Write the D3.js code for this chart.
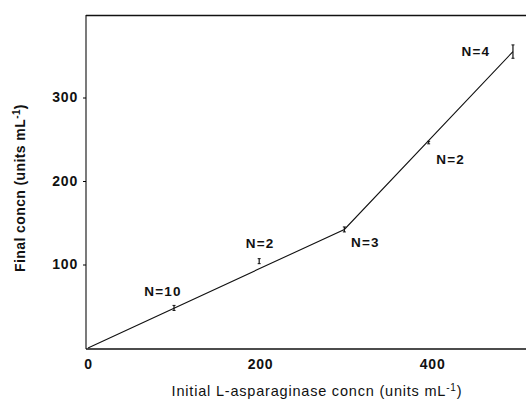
<!DOCTYPE html>
<html>
<head>
<meta charset="utf-8">
<script src="https://cdn.jsdelivr.net/npm/d3@7"></script>
<style>
  body { margin: 0; background: #fff; }
  text { font-family: "Liberation Sans", Arial, sans-serif; fill: #111; }
</style>
</head>
<body>
<div id="container"></div>
<script>
// data
var doses = [100, 199, 298, 396, 494];
var finals = [48, 104, 142, 246, 355];
var errs = [3, 3, 3, 1.5, 8];
var nLabels = ["N=10", "N=2", "N=3", "N=2", "N=4"];
// connecting line vertices
var lineX = [0, 298, 494];
var lineY = [0, 142, 355];
var xTicks = [0, 200, 400];
var yTicks = [100, 200, 300];

var W = 526, H = 402,
    plot = {left: 88, right: 525, top: 14, bottom: 348},
    // label offsets relative to marker (px)
    labelOff = [[-11, -12], [1, -13], [21, 18], [22, 21], [-37, 4]];

var svg = d3.select("#container")
    .append("svg")
    .attr("width", W)
    .attr("height", H);

var x = d3.scaleLinear()
    .domain([0, 508])
    .range([plot.left, plot.right]);

var y = d3.scaleLinear()
    .domain([0, 400])
    .range([plot.bottom, plot.top]);

// frame: left, bottom, top
svg.append("line")
    .attr("x1", x(0) - 2).attr("x2", x(0) - 2)
    .attr("y1", y(400) + 1).attr("y2", y(0) + 1)
    .attr("stroke", "#222").attr("stroke-width", 1.2);
svg.append("line")
    .attr("x1", x(0) - 2).attr("x2", W)
    .attr("y1", y(0) + 1).attr("y2", y(0) + 1)
    .attr("stroke", "#111").attr("stroke-width", 1.6);
svg.append("line")
    .attr("x1", x(0) - 2).attr("x2", W)
    .attr("y1", y(400) + 1.5).attr("y2", y(400) + 1.5)
    .attr("stroke", "#111").attr("stroke-width", 1.6);

// Y axis
var yAxis = svg.append("g")
    .attr("transform", "translate(" + (x(0) - 2) + ",0)")
    .call(d3.axisLeft(y).tickValues(yTicks).tickSize(3).tickPadding(5));
yAxis.select(".domain").remove();
yAxis.selectAll("text")
    .style("font-size", "14px")
    .style("font-weight", "bold")
    .style("letter-spacing", "0.8px")
    .style("font-family", "'Liberation Sans', Arial, sans-serif")
    .attr("fill", "#111");

// X axis
var xAxis = svg.append("g")
    .attr("transform", "translate(0," + (y(0) + 1) + ")")
    .call(d3.axisBottom(x).tickValues(xTicks).tickSize(0).tickPadding(10));
xAxis.select(".domain").remove();
xAxis.selectAll("text")
    .style("font-size", "14px")
    .style("font-weight", "bold")
    .style("letter-spacing", "0.8px")
    .style("font-family", "'Liberation Sans', Arial, sans-serif")
    .attr("fill", "#111");

// axis titles
svg.append("text")
    .attr("x", 317)
    .attr("y", 396)
    .attr("text-anchor", "middle")
    .style("font-size", "14.5px")
    .style("letter-spacing", "0.8px")
    .html("Initial L-asparaginase concn (units mL<tspan dy='-5' font-size='10px'>-1</tspan><tspan dy='5'>)</tspan>");

svg.append("text")
    .attr("transform", "translate(25,188) rotate(-90)")
    .attr("text-anchor", "middle")
    .style("font-size", "14px")
    .style("font-weight", "bold")
    .style("letter-spacing", "0.4px")
    .html("Final concn (units mL<tspan dy='-5' font-size='10px'>-1</tspan><tspan dy='5'>)</tspan>");

// connecting line
var pts = lineX.map(function(d, i) { return [d, lineY[i]]; });
svg.append("path")
    .datum(pts)
    .attr("fill", "none")
    .attr("stroke", "#111")
    .attr("stroke-width", 1.1)
    .attr("d", d3.line()
        .x(function(d) { return x(d[0]); })
        .y(function(d) { return y(d[1]); }));

// error bars
var bars = svg.selectAll(".ebar")
    .data(doses)
    .enter()
    .append("g")
    .attr("class", "ebar");
bars.append("line")
    .attr("x1", function(d) { return x(d); })
    .attr("x2", function(d) { return x(d); })
    .attr("y1", function(d, i) { return y(finals[i] + errs[i]); })
    .attr("y2", function(d, i) { return y(finals[i] - errs[i]); })
    .attr("stroke", "#111").attr("stroke-width", 1.2);
bars.append("line")
    .attr("x1", function(d) { return x(d) - 1.5; })
    .attr("x2", function(d) { return x(d) + 1.5; })
    .attr("y1", function(d, i) { return y(finals[i] + errs[i]); })
    .attr("y2", function(d, i) { return y(finals[i] + errs[i]); })
    .attr("stroke", "#111").attr("stroke-width", 1);
bars.append("line")
    .attr("x1", function(d) { return x(d) - 1.5; })
    .attr("x2", function(d) { return x(d) + 1.5; })
    .attr("y1", function(d, i) { return y(finals[i] - errs[i]); })
    .attr("y2", function(d, i) { return y(finals[i] - errs[i]); })
    .attr("stroke", "#111").attr("stroke-width", 1);

// N labels
svg.selectAll(".nlab")
    .data(doses)
    .enter()
    .append("text")
    .attr("class", "nlab")
    .attr("x", function(d, i) { return x(d) + labelOff[i][0]; })
    .attr("y", function(d, i) { return y(finals[i]) + labelOff[i][1]; })
    .attr("text-anchor", "middle")
    .style("font-size", "13.5px")
    .style("font-weight", "bold")
    .style("letter-spacing", "1.2px")
    .text(function(d, i) { return nLabels[i]; });
</script>
</body>
</html>
